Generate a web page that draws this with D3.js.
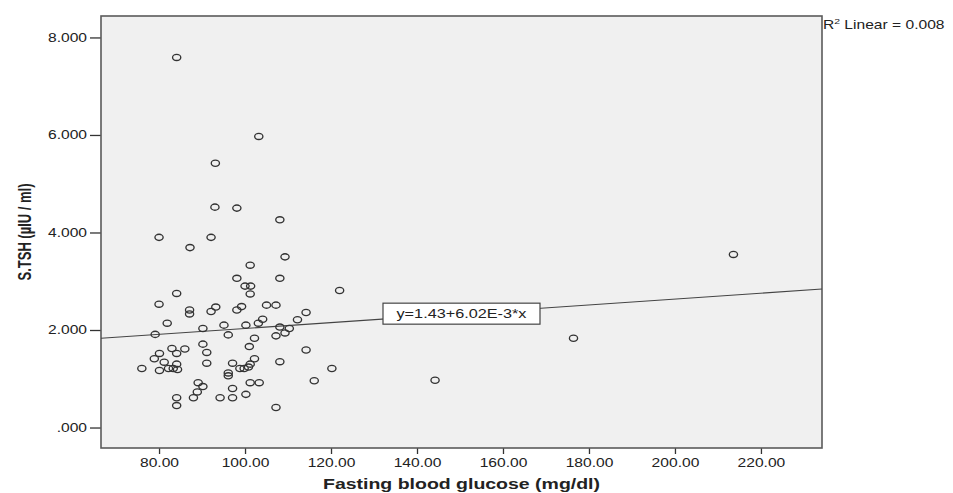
<!DOCTYPE html>
<html>
<head>
<meta charset="utf-8">
<script src="https://cdn.jsdelivr.net/npm/d3@7"></script>
<style>
  body { margin: 0; background: #fff; }
  text { font-family: "Liberation Sans", Arial, sans-serif; fill: #222; }
</style>
</head>
<body>
<svg></svg>
<script>
// fasting blood glucose (mg/dl) and S.TSH values
var glucose = [84.1, 103.2, 93.1, 93.0, 98.1, 108.1, 80.0, 92.1, 87.2, 109.3,
  101.2, 98.1, 108.1, 100.0, 101.3, 101.2, 84.1, 122.0, 80.0, 87.1,
  87.1, 92.1, 93.2, 98.1, 99.2, 105.0, 107.2, 114.2, 112.2, 104.1,
  103.1, 81.9, 95.1, 100.2, 90.2, 79.1, 96.1, 108.1, 110.3, 107.2,
  109.3, 102.2, 101.0, 83.0, 86.0, 90.2, 91.1, 80.1, 84.1, 78.9,
  81.2, 114.2, 102.2, 101.2, 76.0, 80.1, 82.2, 83.3, 84.3, 84.1,
  91.1, 97.1, 98.8, 99.8, 100.8, 96.1, 96.1, 108.1, 120.2, 116.1,
  89.1, 90.2, 88.9, 101.2, 103.3, 97.1, 100.2, 84.1, 88.0, 94.2,
  97.1, 84.1, 107.2, 144.2, 176.4, 213.6];
var tsh = [7.59, 5.97, 5.42, 4.52, 4.50, 4.26, 3.90, 3.90, 3.69, 3.50,
  3.33, 3.06, 3.06, 2.90, 2.90, 2.74, 2.75, 2.81, 2.53, 2.41,
  2.33, 2.38, 2.47, 2.41, 2.48, 2.51, 2.51, 2.36, 2.21, 2.22,
  2.14, 2.14, 2.10, 2.10, 2.03, 1.91, 1.90, 2.06, 2.03, 1.88,
  1.94, 1.83, 1.66, 1.62, 1.61, 1.71, 1.54, 1.52, 1.52, 1.41,
  1.34, 1.59, 1.41, 1.30, 1.21, 1.17, 1.21, 1.21, 1.19, 1.30,
  1.32, 1.32, 1.21, 1.21, 1.24, 1.12, 1.06, 1.35, 1.21, 0.96,
  0.92, 0.84, 0.73, 0.92, 0.92, 0.80, 0.68, 0.61, 0.61, 0.61,
  0.61, 0.45, 0.41, 0.97, 1.83, 3.55];

var xTicks = [80, 100, 120, 140, 160, 180, 200, 220];
var xTickLabels = ["80.00", "100.00", "120.00", "140.00", "160.00", "180.00", "200.00", "220.00"];
var yTicks = [0, 2, 4, 6, 8];
var yTickLabels = [".000", "2.000", "4.000", "6.000", "8.000"];

// fit line y = a + b*x
var intercept = 1.43;
var slope = 6.02e-3;
var fitLabel = "y=1.43+6.02E-3*x";
var r2Label = "0.008";

var width = 953, height = 493;
var plotL = 101, plotR = 822, plotT = 16, plotB = 448;
var stretch = 1.3;   // the source picture is widened sideways

var svg = d3.select("svg")
            .attr("width", width)
            .attr("height", height);

var x = d3.scaleLinear().domain([66.5, 234.2]).range([plotL, plotR]);
var y = d3.scaleLinear().domain([-0.42, 8.44]).range([plotB, plotT]);

svg.append("rect")
   .attr("x", plotL).attr("y", plotT)
   .attr("width", plotR - plotL).attr("height", plotB - plotT)
   .attr("fill", "#f0f0f0");

// axes
var yAxis = svg.append("g")
  .attr("transform", `translate(${plotL},0)`)
  .call(d3.axisLeft(y)
          .tickValues(yTicks)
          .tickSize(11)
          .tickPadding(3)
          .tickFormat((d, i) => yTickLabels[i]));

var xAxis = svg.append("g")
  .attr("transform", `translate(0,${plotB})`)
  .call(d3.axisBottom(x)
          .tickValues(xTicks)
          .tickSize(6)
          .tickPadding(4)
          .tickFormat((d, i) => xTickLabels[i]));

[yAxis, xAxis].forEach(g => {
  g.select(".domain").remove();
  g.selectAll(".tick line").attr("stroke", "#333").attr("stroke-width", 1.3);
  g.selectAll(".tick text")
    .style("font-family", '"Liberation Sans", Arial, sans-serif')
    .attr("font-size", 12)
    .attr("fill", "#333");
});

yAxis.selectAll(".tick text")
  .attr("x", -14 / stretch)
  .attr("transform", `scale(${stretch},1)`);
xAxis.selectAll(".tick text")
  .attr("transform", `scale(${stretch},1)`);

// frame
svg.append("rect")
   .attr("x", plotL).attr("y", plotT)
   .attr("width", plotR - plotL).attr("height", plotB - plotT)
   .attr("fill", "none")
   .attr("stroke", "#5a5a5a")
   .attr("stroke-width", 1.6);

// fit line
var xd = x.domain();
svg.append("line")
   .attr("x1", x(xd[0])).attr("y1", y(intercept + slope * xd[0]))
   .attr("x2", x(xd[1])).attr("y2", y(intercept + slope * xd[1]))
   .attr("stroke", "#444")
   .attr("stroke-width", 1.1);

// points
svg.append("g")
  .selectAll("ellipse")
  .data(glucose.map((g, i) => ({gx: g, ty: tsh[i]})))
  .enter()
  .append("ellipse")
    .attr("cx", d => x(d.gx))
    .attr("cy", d => y(d.ty))
    .attr("rx", 4.1)
    .attr("ry", 3.1)
    .attr("fill", "none")
    .attr("stroke", "#333")
    .attr("stroke-width", 1.35);

// equation label on the line
var midX = (xd[0] + xd[1]) / 2;
var boxW = 157, boxH = 21;
var eq = svg.append("g")
  .attr("transform", `translate(${x(midX)},${y(intercept + slope * midX)})`);
eq.append("rect")
  .attr("x", -boxW / 2).attr("y", -boxH / 2)
  .attr("width", boxW).attr("height", boxH)
  .attr("fill", "#fff")
  .attr("stroke", "#444")
  .attr("stroke-width", 1.2);
eq.append("text")
  .attr("transform", `scale(${stretch},1)`)
  .attr("text-anchor", "middle")
  .attr("dy", "0.35em")
  .attr("font-size", 12.5)
  .text(fitLabel);

// R squared
var r2 = svg.append("text")
  .attr("transform", `translate(${plotR + 1},29) scale(${stretch},1)`)
  .attr("font-size", 12);
r2.append("tspan").text("R");
r2.append("tspan").attr("font-size", 8).attr("dy", -5).text("2");
r2.append("tspan").attr("dy", 5).text(" Linear = " + r2Label);

// axis titles
svg.append("text")
  .attr("transform", `translate(${(plotL + plotR) / 2},489) scale(${stretch},1)`)
  .attr("text-anchor", "middle")
  .attr("font-weight", "bold")
  .attr("font-size", 15)
  .text("Fasting blood glucose (mg/dl)");

svg.append("text")
  .attr("transform", `translate(31,${(plotT + plotB) / 2}) rotate(-90) scale(1,1.45)`)
  .attr("text-anchor", "middle")
  .attr("font-weight", "bold")
  .attr("font-size", 13)
  .text("S.TSH (µIU / ml)");
</script>
</body>
</html>
